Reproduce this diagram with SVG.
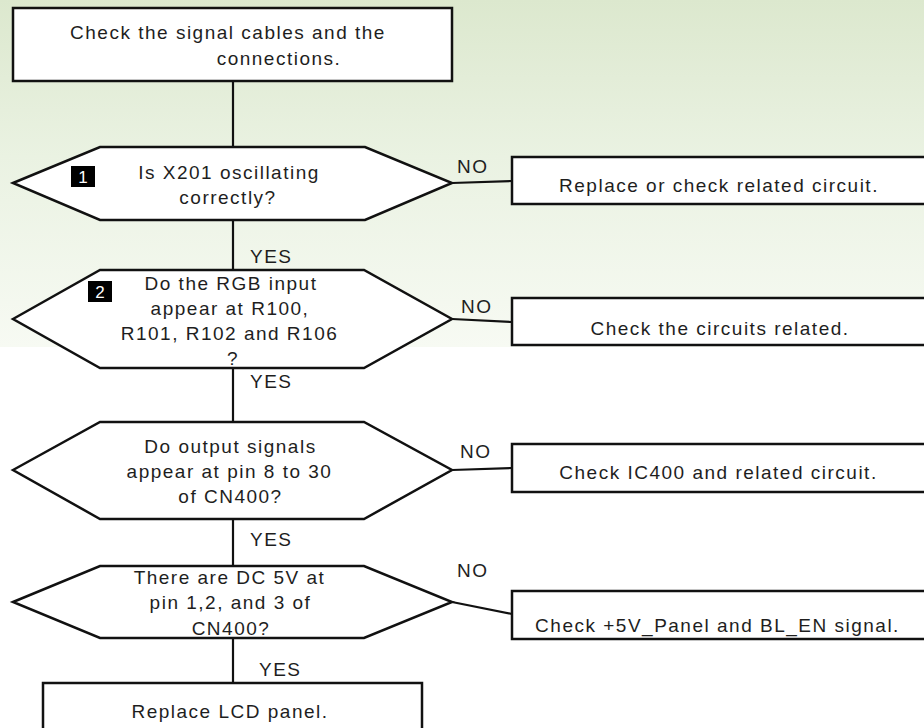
<svg xmlns="http://www.w3.org/2000/svg" width="924" height="728" viewBox="0 0 924 728">
  <defs>
    <linearGradient id="bg" x1="0" y1="0" x2="0" y2="1">
      <stop offset="0" stop-color="#dce8ce"/>
      <stop offset="0.45" stop-color="#eaf2e2"/>
      <stop offset="1" stop-color="#f7faf3"/>
    </linearGradient>
    <style>
      .shape { fill: #ffffff; stroke: #111111; stroke-width: 2.5; stroke-linejoin: miter; }
      .line { fill: none; stroke: #111111; stroke-width: 2.2; }
      .t { font-family: "Liberation Sans", Arial, sans-serif; font-size: 19px; letter-spacing: 1.5px; fill: #1e1e1e; }
      .c { text-anchor: middle; }
      .badge { fill: #000000; }
      .bt { font-family: "Liberation Sans", Arial, sans-serif; font-size: 17px; fill: #ffffff; text-anchor: middle; }
    </style>
  </defs>

  <rect x="0" y="0" width="924" height="728" fill="#ffffff"/>
  <rect x="0" y="0" width="924" height="347" fill="url(#bg)"/>

  <g id="connectors">
    <line class="line" x1="233" y1="81" x2="233" y2="147"/>
    <line class="line" x1="233" y1="220" x2="233" y2="270"/>
    <line class="line" x1="233" y1="368" x2="233" y2="422"/>
    <line class="line" x1="233" y1="519" x2="233" y2="566"/>
    <line class="line" x1="233" y1="638" x2="233" y2="683"/>
    <line class="line" x1="452" y1="183" x2="512" y2="181"/>
    <line class="line" x1="452" y1="319" x2="512" y2="322"/>
    <line class="line" x1="452" y1="470" x2="512" y2="468"/>
    <line class="line" x1="452" y1="602" x2="512" y2="614"/>
    <text class="t" x="250" y="263">YES</text>
    <text class="t" x="250" y="388">YES</text>
    <text class="t" x="250" y="546">YES</text>
    <text class="t" x="259" y="676">YES</text>
    <text class="t" x="457" y="173">NO</text>
    <text class="t" x="461" y="313">NO</text>
    <text class="t" x="460" y="458">NO</text>
    <text class="t" x="457" y="577">NO</text>
  </g>

  <g id="start">
    <rect class="shape" x="13" y="8" width="439" height="73"/>
    <text class="t c" x="228" y="39">Check the signal cables and the</text>
    <text class="t c" x="279" y="65">connections.</text>
  </g>

  <g id="q1">
    <polygon class="shape" points="13,183 100,147 365,147 452,183 365,220 100,220"/>
    <rect class="badge" x="71" y="166" width="24" height="21"/>
    <text class="bt" x="83" y="182.5">1</text>
    <text class="t c" x="229" y="179">Is X201 oscillating</text>
    <text class="t c" x="228" y="204">correctly?</text>
  </g>

  <g id="q2">
    <polygon class="shape" points="13,319 100,270 364,270 452,319 364,368 100,368"/>
    <rect class="badge" x="88" y="281" width="24" height="21"/>
    <text class="bt" x="100" y="297.5">2</text>
    <text class="t c" x="231" y="290">Do the RGB input</text>
    <text class="t c" x="230" y="315">appear at R100,</text>
    <text class="t c" x="229.5" y="340">R101, R102 and R106</text>
    <text class="t c" x="233" y="365">?</text>
  </g>

  <g id="q3">
    <polygon class="shape" points="13,470 100,422 364,422 452,470 364,519 100,519"/>
    <text class="t c" x="230.5" y="453">Do output signals</text>
    <text class="t c" x="229.5" y="478">appear at pin 8 to 30</text>
    <text class="t c" x="230.5" y="503">of CN400?</text>
  </g>

  <g id="q4">
    <polygon class="shape" points="13,602 100,566 364,566 452,602 364,638 100,638"/>
    <text class="t c" x="229.5" y="584">There are DC 5V at</text>
    <text class="t c" x="230.5" y="609">pin 1,2, and 3 of</text>
    <text class="t c" x="231" y="635">CN400?</text>
  </g>

  <g id="end">
    <rect class="shape" x="43" y="683" width="379" height="60"/>
    <text class="t c" x="230" y="718">Replace LCD panel.</text>
  </g>

  <g id="r1">
    <rect class="shape" x="512" y="157" width="430" height="47"/>
    <text class="t c" x="719" y="192">Replace or check related circuit.</text>
  </g>

  <g id="r2">
    <rect class="shape" x="512" y="298" width="430" height="47"/>
    <text class="t c" x="720" y="335">Check the circuits related.</text>
  </g>

  <g id="r3">
    <rect class="shape" x="512" y="444" width="430" height="48"/>
    <text class="t c" x="718.5" y="479">Check IC400 and related circuit.</text>
  </g>

  <g id="r4">
    <rect class="shape" x="512" y="591" width="430" height="48"/>
    <text class="t c" x="717.5" y="632">Check +5V_Panel and BL_EN signal.</text>
  </g>
</svg>
